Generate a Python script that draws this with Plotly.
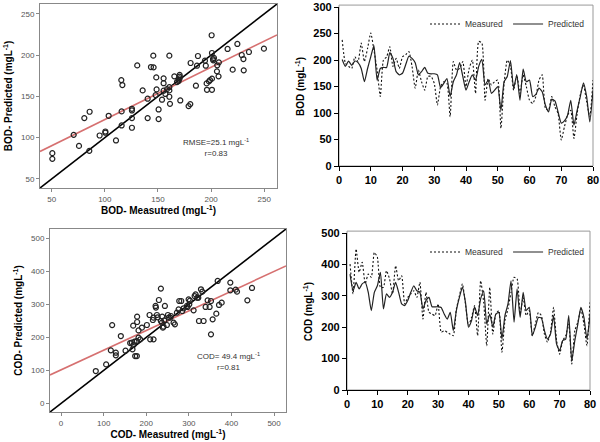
import plotly.graph_objects as go

# ---------------- data ----------------
# BOD scatter: measured vs predicted
bod_sc_meas = [50.6, 50.6, 70.7, 75.7, 80.7, 85.4, 85.7, 95.1, 100.5, 100.5, 103.6, 110.5, 115.5, 116.5,
               115.8, 115.8, 125.5, 125.5, 125.5, 125.5, 130.5, 135.6, 140.3, 140.3, 143.4, 145.9, 145.6,
               148.4, 148.7, 147.8, 150.6, 150.6, 153.8, 155.3, 155.3, 155.3, 157, 158.5, 160.7, 160.7,
               160.7, 160.7, 161.3, 165.4, 167.9, 169.4, 169.4, 170.4, 170.4, 170.4, 171, 178.8, 180.4,
               180.7, 185.7, 186.7, 187.6, 194.2, 195, 195.8, 196.1, 198, 199, 200.5, 200.8, 200.8, 200.8,
               201.8, 202, 202.7, 205.8, 205.5, 207, 207.3, 215.5, 220.3, 224.7, 228.8, 230.4, 230.7,
               235.6, 249.7]
bod_sc_pred = [81.2, 74.3, 103.4, 90, 123.7, 84, 131.4, 102.6, 106, 107.5, 126.5, 96.6, 169.8, 163.8,
               114.8, 131.8, 112, 123.7, 135, 133, 187.6, 157.3, 147.2, 123.7, 185.6, 185.2, 199.4,
               173, 158.5, 151.6, 134.2, 122.5, 146, 171.9, 166, 156.9, 153, 158.9, 199.4, 161.3,
               157.3, 149.6, 141, 174.3, 167.4, 170.2, 168.6, 176, 174, 172, 145.1, 138.3, 140.7,
               190.5, 163, 187.2, 199, 193.3, 187.2, 165.8, 158, 168.2, 169.8, 224.1, 202.6, 171.5, 158,
               195.3, 193.7, 196.6, 187.7, 180.4, 174.3, 191.3, 207.5, 182.4, 213.6, 200.2, 195.3, 181.6,
               203.8, 207.9]
bod_axis_range = [39, 262]
bod_fit_slope = 0.634
bod_fit_intercept = 58.5
bod_ticks = [50, 100, 150, 200, 250]

# COD scatter
cod_sc_meas = [81.5, 105.8, 119.9, 116.8, 128.5, 128.5, 140.3, 151.3, 162.2, 166, 167.7, 169.3, 170,
               172.4, 173.9, 177.9, 177.9, 178.5, 178.5, 181.8, 181.8, 185.7, 189.7, 201.4, 207.7, 209.2,
               217.1, 215.5, 217, 221.8, 222.6, 225, 226.5, 229.6, 234.3, 234.3, 236.7, 237.5, 239, 240.6,
               242.2, 243.7, 248.4, 250.8, 252.4, 256.3, 257.8, 264.1, 267.2, 271.9, 275.9, 277.4, 282.1,
               284.5, 287.6, 295.5, 297, 299.4, 302.5, 301, 311.1, 313.5, 315.8, 319.7, 322.1, 328.4,
               331.5, 323.7, 334.6, 339.3, 344, 348.7, 351.9, 351.9, 355.8, 364.4, 367.6, 370.7, 377,
               397.3, 397.3, 409.9, 413, 437.3, 448.2]
cod_sc_pred = [98, 118, 237, 160.6, 153.5, 145.5, 204, 159.6, 182.8, 183.8, 163.6, 235.4, 176.8,
               186.9, 143.4, 143.4, 188.9, 262.6, 246.5, 221, 199, 194, 229.3, 237.4, 267.7, 194,
               194, 252.5, 259.6, 295, 290, 267.7, 260.6, 313, 347.5, 249.5, 244.4, 262.6, 229.3, 232.3,
               251.5, 295, 237.4, 267.7, 259.6, 259.6, 264.6, 244.4, 239.4, 274.7, 284.8, 310, 310,
               279.8, 287.9, 295, 292, 315, 311, 300, 281.8, 325, 330, 320, 320, 345.5,
               338.4, 249.5, 249.5, 292, 312, 292, 310, 209, 254.5, 271.7, 370.7, 298, 305,
               365.7, 342.4, 344.4, 338.4, 312, 349.5]
cod_axis_range = [-26, 528]
cod_fit_slope = 0.596
cod_fit_intercept = 101.5
cod_ticks = [0, 100, 200, 300, 400, 500]

# time series (sample number 1..80)
samples = list(range(1, 81))
bod_measured = [238, 194, 188, 184, 206, 197, 232, 197, 222, 251, 219, 181, 131, 200, 206, 225, 188, 203,
                184, 206, 210, 216, 188, 147, 181, 159, 143, 169, 169, 156, 115, 150, 159, 156, 93, 197,
                181, 184, 197, 150, 184, 200, 137, 235, 232, 124, 165, 153, 159, 162, 71, 156, 200, 188,
                143, 172, 137, 172, 150, 124, 118, 131, 162, 172, 109, 105, 131, 112, 99, 49, 74, 96,
                105, 52, 99, 134, 153, 121, 93, 162]
bod_predicted = [201, 188, 198, 190, 198, 195, 184, 159, 184, 206, 227, 162, 184, 186, 186, 214, 203, 178,
                 172, 175, 191, 207, 203, 195, 172, 178, 186, 175, 174, 174, 172, 148, 156, 165, 131, 159,
                 172, 195, 169, 143, 159, 172, 162, 188, 201, 153, 162, 137, 143, 150, 105, 159, 169, 199,
                 147, 172, 124, 183, 159, 162, 131, 135, 147, 140, 115, 102, 126, 123, 102, 81, 85, 96,
                 124, 77, 105, 131, 157, 131, 83, 143]
cod_measured = [401, 306, 449, 375, 407, 338, 369, 359, 438, 423, 327, 327, 380, 354, 306, 396, 348, 364,
                274, 295, 306, 316, 295, 343, 226, 311, 247, 242, 237, 274, 184, 189, 184, 178, 173, 258,
                300, 338, 274, 205, 231, 269, 173, 348, 279, 141, 327, 178, 242, 253, 120, 221, 258, 311,
                359, 354, 242, 295, 237, 253, 173, 210, 247, 237, 178, 152, 184, 263, 157, 114, 157, 173,
                210, 83, 189, 216, 258, 210, 141, 279]
cod_predicted = [369, 316, 343, 322, 338, 343, 311, 253, 311, 332, 375, 258, 306, 295, 311, 343, 311, 274,
                 269, 285, 311, 332, 316, 311, 258, 285, 295, 265, 265, 265, 263, 242, 226, 247, 189, 253,
                 295, 327, 279, 200, 221, 265, 237, 290, 316, 210, 242, 200, 242, 247, 162, 237, 274, 348,
                 216, 322, 231, 311, 253, 263, 173, 200, 231, 229, 189, 162, 178, 237, 146, 125, 157, 162,
                 237, 93, 157, 210, 263, 231, 162, 237]

# ---------------- figure ----------------
W, H = 600, 442
FONT = "Liberation Sans"


def dx(a, b):
    return [a / W, b / W]


def dy(top, bottom):
    return [1 - bottom / H, 1 - top / H]


def px(a):
    return a / W


def py(b):
    return 1 - b / H


fig = go.Figure()

# Scatter BOD
fig.add_trace(go.Scatter(x=bod_axis_range, y=bod_axis_range, mode="lines",
                         line=dict(color="black", width=1.6), xaxis="x", yaxis="y", showlegend=False))
fig.add_trace(go.Scatter(x=bod_axis_range,
                         y=[bod_fit_intercept + bod_fit_slope * v for v in bod_axis_range], mode="lines",
                         line=dict(color="rgb(214,112,112)", width=1.6), xaxis="x", yaxis="y", showlegend=False))
fig.add_trace(go.Scatter(x=bod_sc_meas, y=bod_sc_pred, mode="markers",
                         marker=dict(symbol="circle-open", size=5, color="#222", line=dict(width=1.2)),
                         xaxis="x", yaxis="y", showlegend=False))

# Time series BOD
fig.add_trace(go.Scatter(x=samples, y=bod_measured, mode="lines", name="Measured",
                         line=dict(color="#111", width=1.1, dash="2px,2px", shape="spline", smoothing=0.5),
                         xaxis="x2", yaxis="y2", legend="legend"))
fig.add_trace(go.Scatter(x=samples, y=bod_predicted, mode="lines", name="Predicted",
                         line=dict(color="#222", width=1.2, shape="spline", smoothing=0.5),
                         xaxis="x2", yaxis="y2", legend="legend"))

# Scatter COD
fig.add_trace(go.Scatter(x=cod_axis_range, y=cod_axis_range, mode="lines",
                         line=dict(color="black", width=1.6), xaxis="x3", yaxis="y3", showlegend=False))
fig.add_trace(go.Scatter(x=cod_axis_range,
                         y=[cod_fit_intercept + cod_fit_slope * v for v in cod_axis_range], mode="lines",
                         line=dict(color="rgb(214,112,112)", width=1.6), xaxis="x3", yaxis="y3", showlegend=False))
fig.add_trace(go.Scatter(x=cod_sc_meas, y=cod_sc_pred, mode="markers",
                         marker=dict(symbol="circle-open", size=5, color="#222", line=dict(width=1.2)),
                         xaxis="x3", yaxis="y3", showlegend=False))

# Time series COD
fig.add_trace(go.Scatter(x=samples, y=cod_measured, mode="lines", name="Measured",
                         line=dict(color="#111", width=1.1, dash="2px,2px", shape="spline", smoothing=0.5),
                         xaxis="x4", yaxis="y4", legend="legend2"))
fig.add_trace(go.Scatter(x=samples, y=cod_predicted, mode="lines", name="Predicted",
                         line=dict(color="#222", width=1.2, shape="spline", smoothing=0.5),
                         xaxis="x4", yaxis="y4", legend="legend2"))

sc_tick = dict(family=FONT, size=8, color="#555")
sc_title = dict(family=FONT, size=10, color="black", weight="bold")
ts_tick = dict(family=FONT, size=11, color="black", weight="bold")
ts_title = dict(family=FONT, size=10, color="black", weight="bold")

sc_axis = dict(showgrid=False, zeroline=False, showline=True, mirror=True, linecolor="#888", linewidth=1,
               ticks="outside", ticklen=3, tickcolor="#888", tickfont=sc_tick, automargin=False,
               ticklabeloverflow="allow")
ts_axis = dict(showgrid=False, zeroline=False, showline=True, linecolor="black", linewidth=1.3,
               ticks="outside", ticklen=4, tickcolor="black", tickfont=ts_tick, automargin=False,
               ticklabeloverflow="allow")

leg_font = dict(family=FONT, size=8.5, color="#333")

fig.update_layout(
    width=W, height=H, margin=dict(l=0, r=0, t=0, b=0, autoexpand=False),
    paper_bgcolor="white", plot_bgcolor="white",
    xaxis=dict(sc_axis, domain=dx(40, 277), range=bod_axis_range, tickvals=bod_ticks, anchor="y",
               title=dict(text="BOD- Measutred (mgL<sup>-1</sup>)", font=sc_title, standoff=4)),
    yaxis=dict(sc_axis, domain=dy(4, 188), range=bod_axis_range, tickvals=bod_ticks, anchor="x",
               title=dict(text="BOD- Predicted (mgL<sup>-1</sup>)", font=sc_title, standoff=6)),
    xaxis2=dict(ts_axis, domain=dx(339, 593), range=[0, 80], dtick=10, anchor="y2"),
    yaxis2=dict(ts_axis, domain=dy(7, 166), range=[0, 300], dtick=50, anchor="x2",
                title=dict(text="BOD (mgL<sup>-1</sup>)", font=ts_title, standoff=6)),
    xaxis3=dict(sc_axis, domain=dx(50, 286), range=cod_axis_range, tickvals=cod_ticks, anchor="y3",
                title=dict(text="COD- Measutred (mgL<sup>-1</sup>)", font=sc_title, standoff=4)),
    yaxis3=dict(sc_axis, domain=dy(229, 412), range=cod_axis_range, tickvals=cod_ticks, anchor="x3",
                title=dict(text="COD- Predicted (mgL<sup>-1</sup>)", font=sc_title, standoff=6)),
    xaxis4=dict(ts_axis, domain=dx(347, 590), range=[0, 80], dtick=10, anchor="y4"),
    yaxis4=dict(ts_axis, domain=dy(233, 390), range=[0, 500], dtick=100, anchor="x4",
                title=dict(text="COD (mgL<sup>-1</sup>)", font=ts_title, standoff=6)),
    legend=dict(orientation="h", x=px(425), y=py(24), xanchor="left", yanchor="middle",
                font=leg_font, bgcolor="rgba(0,0,0,0)", tracegroupgap=0),
    legend2=dict(orientation="h", x=px(425), y=py(252), xanchor="left", yanchor="middle",
                 font=leg_font, bgcolor="rgba(0,0,0,0)", tracegroupgap=0),
    annotations=[
        dict(text="RMSE=25.1 mgL<sup>-1</sup><br>r=0.83", x=px(216), y=py(148), xref="paper", yref="paper",
             showarrow=False, align="center", font=dict(family=FONT, size=8, color="#333")),
        dict(text="COD= 49.4 mgL<sup>-1</sup><br>r=0.81", x=px(228), y=py(374), xref="paper", yref="paper",
             showarrow=False, align="center", font=dict(family=FONT, size=8, color="#333")),
    ],
    shapes=[
        dict(type="rect", xref="x2 domain", yref="y2 domain", x0=0, x1=1, y0=0, y1=1.012,
             line=dict(color="#999", width=1), layer="below"),
        dict(type="rect", xref="x4 domain", yref="y4 domain", x0=0, x1=1, y0=0, y1=1.012,
             line=dict(color="#999", width=1), layer="below"),
    ],
)

# remove the default 8px page margin so the figure fills the 600x442 window exactly
fig.write_html("out.html", config={"displayModeBar": False},
               post_script="document.body.style.margin='0px';")
